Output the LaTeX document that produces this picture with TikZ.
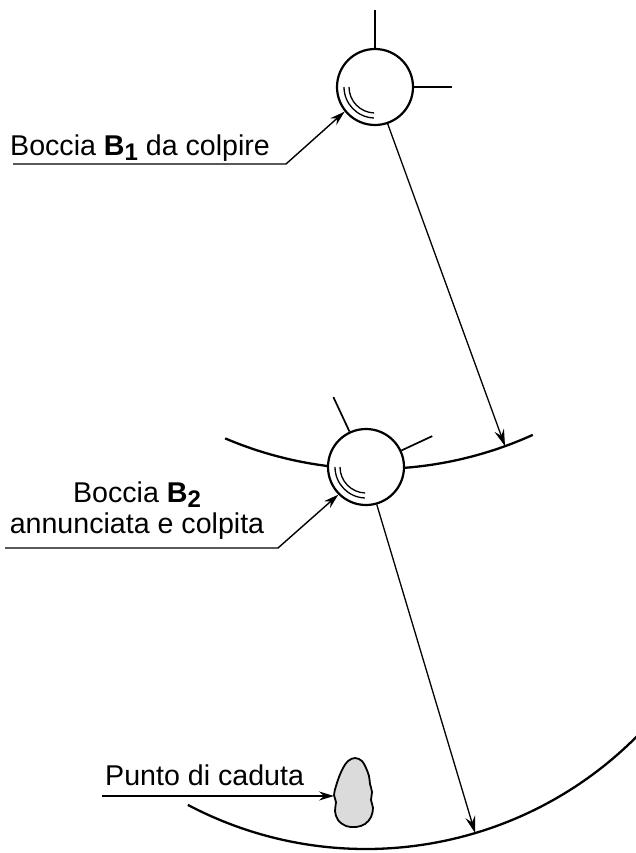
\documentclass[tikz,border=0pt]{standalone}
\usepackage{fontspec}
\setmainfont{Liberation Sans}
\usetikzlibrary{arrows.meta,positioning}
\newcommand{\bsub}[1]{\raisebox{-5pt}{\fontsize{24}{24}\selectfont\bfseries #1}}
\tikzset{ball/.style={draw, circle, fill=white, line width=2.2pt, minimum size=76pt, inner sep=0pt},
	tick/.style={draw, line width=1.7pt},
	track/.style={draw, line width=2.3pt},
	shine/.style={draw, line width=1.3pt},
	shot/.style={draw, line width=1.3pt, -{Stealth[length=17pt,width=10pt,inset=6pt]}},
	lead/.style={draw, line width=1.4pt, -{Stealth[length=15pt,width=9pt,inset=5pt]}},
	lbl/.style={inner sep=0pt, font=\fontsize{28.6}{31}\selectfont},
	spot/.style={draw, line width=1.8pt, fill=black!14}}

\begin{document}
\begin{tikzpicture}[x=1pt,y=1pt]
		\useasboundingbox (0,0) rectangle (635,-853);
		\coordinate (c1) at (375,-87);
		\coordinate (c2) at (366,-467);
		
		\draw[track] (c1) ++(246.9:382) arc[start angle=246.9, end angle=294.4, radius=382];
		\draw[track] (c2) ++(242.2:382) arc[start angle=242.2, end angle=318, radius=382];
		\path (c1) ++(289.9:382) coordinate (h1);
		\path (c2) ++(286.6:382) coordinate (h2);
		
		\node[ball] (b1) at (c1) {};
		\node[ball] (b2) at (c2) {};
		\foreach \c in {c1,c2}
		\foreach \r in {26,31}
		\draw[shine] (\c) ++(180:\r) arc[start angle=180, end angle=268, radius=\r];
		
		\draw[tick] (b1.90) -- ++(90:38);
		\draw[tick] (b1.0) -- ++(0:38);
		\draw[tick] (b2.115) -- ++(115:38);
		\draw[tick] (b2.25) -- ++(25:34);
		\draw[shot] (b1.289.9) -- (h1);
		\draw[shot] (b2.286.6) -- (h2);
		
		\node[lbl, anchor=base west] (t1) at (10,-156) {Boccia \textbf{B}\bsub{1} da colpire};
		\coordinate (u1) at (13,-164);
		\coordinate (k1) at (286,-164);
		\draw[lead] (u1) -- (k1) -- (b1.219);
		
		\node[lbl, align=center, anchor=base] (t2) at (137,-533) {Boccia \textbf{B}\bsub{2}\\annunciata e colpita};
		\coordinate (u2) at (5,-548);
		\coordinate (k2) at (278,-548);
		\draw[lead] (u2) -- (k2) -- (b2.225);
		
		\draw[spot] plot[smooth cycle, tension=0.6] coordinates {(355,-758) (362,-761) (366,-768) (369,-776) (370,-784) (372,-792) (371,-800) (373,-808) (371,-817) (365,-824) (356,-827) (346,-826) (338,-820) (335,-811) (336,-802) (334,-795) (336,-786) (339,-777) (343,-768) (348,-761)};
		\coordinate (s) at (334,-796);
		\node[lbl, anchor=base west] (t3) at (105,-785) {Punto di caduta};
		\coordinate (u3) at (102,-796);
		\draw[lead] (u3) -- (s);
	\end{tikzpicture}
\end{document}
